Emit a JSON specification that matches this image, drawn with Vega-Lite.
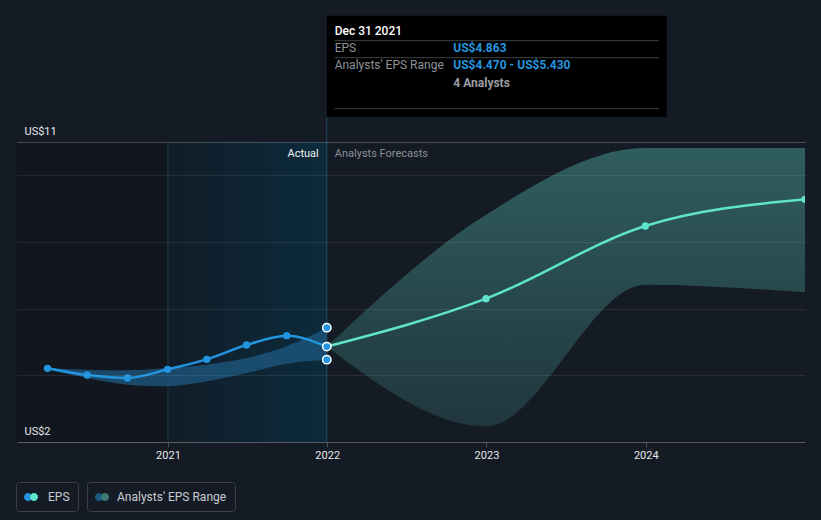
{
  "$schema": "https://vega.github.io/schema/vega-lite/v6.json",
  "width": 788,
  "height": 300,
  "autosize": "none",
  "padding": {"left": 17, "top": 142, "right": 16, "bottom": 78},
  "background": "#151b25",
  "datasets": {
    "periods": [
      {"date": "2020-01-01", "end": "2021-01-01", "period": "past"},
      {"date": "2021-01-01", "end": "2021-12-31", "period": "last"}
    ],
    "actual": [
      {"date": "2020-03-31", "eps": 4.21, "lo": 4.17, "hi": 4.21},
      {"date": "2020-06-30", "eps": 4.01, "lo": 3.92, "hi": 4.17},
      {"date": "2020-09-30", "eps": 3.92, "lo": 3.72, "hi": 4.15},
      {"date": "2020-12-31", "eps": 4.18, "lo": 3.67, "hi": 4.22},
      {"date": "2021-03-31", "eps": 4.48, "lo": 3.82, "hi": 4.32},
      {"date": "2021-06-30", "eps": 4.91, "lo": 4.07, "hi": 4.52},
      {"date": "2021-09-30", "eps": 5.19, "lo": 4.35, "hi": 4.87},
      {"date": "2021-12-31", "eps": 4.863, "lo": 4.47, "hi": 5.43}
    ],
    "forecast": [
      {"date": "2021-12-31", "eps": 4.863, "lo": 4.863, "hi": 4.863},
      {"date": "2022-12-31", "eps": 6.30, "lo": 2.47, "hi": 8.82},
      {"date": "2023-12-31", "eps": 8.48, "lo": 6.72, "hi": 10.82},
      {"date": "2024-12-31", "eps": 9.28, "lo": 6.49, "hi": 10.82}
    ],
    "tip": [
      {"role": "title", "text": "Dec 31 2021", "date": "2022-01-18", "v": 14.34},
      {"role": "label", "text": "EPS", "date": "2022-01-18", "v": 13.83},
      {"role": "value", "text": "US$4.863", "date": "2022-10-17", "v": 13.83},
      {"role": "label", "text": "Analysts' EPS Range", "date": "2022-01-18", "v": 13.32},
      {"role": "value", "text": "US$4.470 - US$5.430", "date": "2022-10-17", "v": 13.32},
      {"role": "count", "text": "4 Analysts", "date": "2022-10-17", "v": 12.78}
    ],
    "tipLines": [
      {"date": "2022-01-18", "end": "2024-01-31", "v": 14.04},
      {"date": "2022-01-18", "end": "2024-01-31", "v": 13.53},
      {"date": "2022-01-18", "end": "2024-01-31", "v": 12.0}
    ]
  },
  "encoding": {
    "x": {
      "field": "date",
      "type": "temporal",
      "title": null,
      "scale": {"domain": [{"year": 2020, "month": "jan", "date": 21}, {"year": 2024, "month": "dec", "date": 31}]},
      "axis": {
        "format": "%Y",
        "tickCount": {"interval": "year", "step": 1},
        "grid": false,
        "domainColor": "#4a4f57",
        "tickColor": "#4a4f57",
        "tickSize": 5,
        "labelColor": "#e6e8ea",
        "labelFontSize": 11,
        "labelFont": "Roboto",
        "labelPadding": 2,
        "labelFlush": false,
        "title": null
      }
    }
  },
  "layer": [
    {
      "data": {"name": "periods"},
      "transform": [{"filter": "datum.period == 'past'"}],
      "mark": {"type": "rect", "color": "#12161e", "clip": true},
      "encoding": {"x2": {"field": "end"}}
    },
    {
      "data": {"name": "periods"},
      "transform": [{"filter": "datum.period == 'last'"}],
      "mark": {"type": "rect", "clip": true,
        "fill": {"gradient": "linear", "x1": 0, "y1": 0, "x2": 1, "y2": 0,
          "stops": [{"offset": 0, "color": "#111d28"}, {"offset": 1, "color": "#0b2b3c"}]}},
      "encoding": {"x2": {"field": "end"}}
    },
    {
      "data": {"values": [{"date": "2021-01-01"}]},
      "mark": {"type": "rule", "color": "#1b3a4c", "strokeWidth": 1},
      "encoding": {}
    },
    {
      "data": {"name": "actual"},
      "mark": {"type": "area", "interpolate": "monotone", "opacity": 0.75},
      "encoding": {
        "y": {
          "field": "lo", "type": "quantitative", "title": null,
          "scale": {"domain": [2, 11], "nice": false, "zero": false},
          "axis": {
            "values": [2, 4, 6, 8, 10, 11],
            "labelExpr": "datum.value == 2 || datum.value == 11 ? 'US$' + datum.value : ''",
            "grid": true,
            "gridColor": {"condition": {"test": "datum.value == 11", "value": "rgba(255,255,255,0.22)"}, "value": "rgba(255,255,255,0.08)"},
            "domain": false,
            "ticks": false,
            "tickSize": 0,
            "labelAlign": "left",
            "labelPadding": -7,
            "labelBaseline": "alphabetic",
            "labelOffset": -8,
            "labelColor": "#e6e8ea",
            "labelFontSize": 11,
            "labelFont": "Roboto",
            "zindex": 1,
            "title": null
          }
        },
        "y2": {"field": "hi"},
        "fill": {
          "datum": "Analysts' EPS Range",
          "type": "nominal",
          "scale": {"range": ["#1d5a82"]},
          "legend": {
            "orient": "none", "legendX": 70, "legendY": 340, "title": null,
            "symbolType": "M-1,0A0.57,0.57,0,1,0,0.14,0A0.57,0.57,0,1,0,-1,0Z",
            "symbolSize": 196, "symbolOpacity": 1, "symbolStrokeWidth": 0,
            "labelColor": "#c8ccd1", "labelFontSize": 12, "labelFont": "Roboto", "labelOffset": 8,
            "strokeColor": "#3b4049", "cornerRadius": 3, "padding": 8
          }
        }
      }
    },
    {
      "data": {"values": [{"date": "2021-12-31"}]},
      "mark": {"type": "rule", "color": "#1f4a62", "strokeWidth": 1},
      "encoding": {
        "y": {"datum": 2, "type": "quantitative", "title": null},
        "y2": {"datum": 11.76}
      }
    },
    {
      "data": {"name": "forecast"},
      "mark": {"type": "area", "interpolate": "monotone",
        "fill": {"gradient": "linear", "x1": 0, "y1": 0, "x2": 0, "y2": 1,
          "stops": [{"offset": 0, "color": "#305d5d"}, {"offset": 1, "color": "#20373d"}]}},
      "encoding": {
        "y": {"field": "lo", "type": "quantitative", "title": null},
        "y2": {"field": "hi"}
      }
    },
    {
      "data": {"name": "actual"},
      "mark": {"type": "line", "interpolate": "monotone", "color": "#2394df", "strokeWidth": 2.5},
      "encoding": {"y": {"field": "eps", "type": "quantitative", "title": null}}
    },
    {
      "data": {"name": "forecast"},
      "mark": {"type": "line", "interpolate": "monotone", "color": "#5fe3cc", "strokeWidth": 2.5},
      "encoding": {"y": {"field": "eps", "type": "quantitative", "title": null}}
    },
    {
      "data": {"name": "actual"},
      "mark": {"type": "point", "filled": true, "size": 55, "opacity": 1},
      "encoding": {
        "y": {"field": "eps", "type": "quantitative", "title": null},
        "color": {
          "datum": "EPS",
          "type": "nominal",
          "scale": {"range": ["#2394df"]},
          "legend": {
            "orient": "none", "legendX": -1, "legendY": 340, "title": null,
            "symbolType": "M-1,0A0.57,0.57,0,1,0,0.14,0A0.57,0.57,0,1,0,-1,0Z",
            "symbolSize": 196, "symbolOpacity": 1, "symbolStrokeWidth": 0,
            "labelColor": "#c8ccd1", "labelFontSize": 12, "labelFont": "Roboto", "labelOffset": 10,
            "strokeColor": "#3b4049", "cornerRadius": 3, "padding": 8
          }
        }
      }
    },
    {
      "data": {"values": []},
      "mark": {"type": "point", "filled": true, "color": "#5fe3cc", "opacity": 1},
      "encoding": {
        "shape": {
          "datum": "eps-overlay",
          "type": "nominal",
          "scale": {"range": ["M-0.14,0A0.57,0.57,0,1,0,1,0A0.57,0.57,0,1,0,-0.14,0Z"]},
          "legend": {
            "orient": "none", "legendX": -1, "legendY": 340, "title": null,
            "symbolSize": 196, "symbolOpacity": 1, "symbolStrokeWidth": 0,
            "symbolFillColor": "#5fe3cc",
            "labelExpr": "''", "labelFontSize": 12, "labelOffset": 10,
            "strokeColor": null, "padding": 8
          }
        }
      }
    },
    {
      "data": {"values": []},
      "mark": {"type": "point", "filled": true, "color": "#3d7a77", "opacity": 1},
      "encoding": {
        "stroke": {
          "datum": "range-overlay",
          "type": "nominal",
          "scale": {"range": ["#3d7a77"]},
          "legend": {
            "orient": "none", "legendX": 70, "legendY": 340, "title": null,
            "symbolType": "M-0.14,0A0.57,0.57,0,1,0,1,0A0.57,0.57,0,1,0,-0.14,0Z",
            "symbolSize": 196, "symbolOpacity": 1, "symbolStrokeWidth": 0,
            "symbolFillColor": "#3d7a77",
            "labelExpr": "''", "labelFontSize": 12, "labelOffset": 8,
            "strokeColor": null, "padding": 8
          }
        }
      }
    },
    {
      "data": {"name": "forecast"},
      "transform": [{"filter": "year(datum.date) >= 2022"}],
      "mark": {"type": "point", "filled": true, "size": 55, "color": "#5fe3cc", "opacity": 1, "clip": true},
      "encoding": {"y": {"field": "eps", "type": "quantitative", "title": null}}
    },
    {
      "data": {"name": "actual"},
      "transform": [
        {"filter": "year(datum.date) == 2021 && month(datum.date) == 11"},
        {"fold": ["eps", "lo", "hi"], "as": ["k", "val"]}
      ],
      "mark": {"type": "point", "filled": true, "size": 70, "color": "#2394df", "stroke": "#ffffff", "strokeWidth": 1.5, "opacity": 1},
      "encoding": {"y": {"field": "val", "type": "quantitative", "title": null}}
    },
    {
      "data": {"values": [{"text": "Actual", "date": "2021-12-31", "v": 10.65}]},
      "mark": {"type": "text", "align": "right", "baseline": "middle", "dx": -8, "font": "Roboto", "fontSize": 11, "color": "#f2f3f4"},
      "encoding": {"y": {"field": "v", "type": "quantitative", "title": null}, "text": {"field": "text"}}
    },
    {
      "data": {"values": [{"text": "Analysts Forecasts", "date": "2021-12-31", "v": 10.65}]},
      "mark": {"type": "text", "align": "left", "baseline": "middle", "dx": 8, "font": "Roboto", "fontSize": 11, "color": "#8a8f96"},
      "encoding": {"y": {"field": "v", "type": "quantitative", "title": null}, "text": {"field": "text"}}
    },
    {
      "data": {"values": [{"date": "2021-12-31", "end": "2024-02-18", "top": 14.79, "bottom": 11.76}]},
      "mark": {"type": "rect", "color": "#000000"},
      "encoding": {
        "x2": {"field": "end"},
        "y": {"field": "top", "type": "quantitative", "title": null},
        "y2": {"field": "bottom"}
      }
    },
    {
      "data": {"name": "tipLines"},
      "mark": {"type": "rule", "color": "#3c3f44", "strokeWidth": 1},
      "encoding": {
        "x2": {"field": "end"},
        "y": {"field": "v", "type": "quantitative", "title": null}
      }
    },
    {
      "data": {"name": "tip"},
      "transform": [{"filter": "datum.role == 'title'"}],
      "mark": {"type": "text", "align": "left", "baseline": "middle", "font": "Roboto", "fontSize": 12, "fontWeight": 500, "color": "#ffffff"},
      "encoding": {"y": {"field": "v", "type": "quantitative", "title": null}, "text": {"field": "text"}}
    },
    {
      "data": {"name": "tip"},
      "transform": [{"filter": "datum.role == 'label'"}],
      "mark": {"type": "text", "align": "left", "baseline": "middle", "font": "Roboto", "fontSize": 12, "color": "#8e9297"},
      "encoding": {"y": {"field": "v", "type": "quantitative", "title": null}, "text": {"field": "text"}}
    },
    {
      "data": {"name": "tip"},
      "transform": [{"filter": "datum.role == 'value'"}],
      "mark": {"type": "text", "align": "left", "baseline": "middle", "font": "Roboto", "fontSize": 12, "fontWeight": "bold", "color": "#2394df"},
      "encoding": {"y": {"field": "v", "type": "quantitative", "title": null}, "text": {"field": "text"}}
    },
    {
      "data": {"name": "tip"},
      "transform": [{"filter": "datum.role == 'count'"}],
      "mark": {"type": "text", "align": "left", "baseline": "middle", "font": "Roboto", "fontSize": 12, "fontWeight": "bold", "color": "#9a9ea3"},
      "encoding": {"y": {"field": "v", "type": "quantitative", "title": null}, "text": {"field": "text"}}
    }
  ],
  "config": {
    "view": {"stroke": null},
    "font": "Roboto"
  }
}
